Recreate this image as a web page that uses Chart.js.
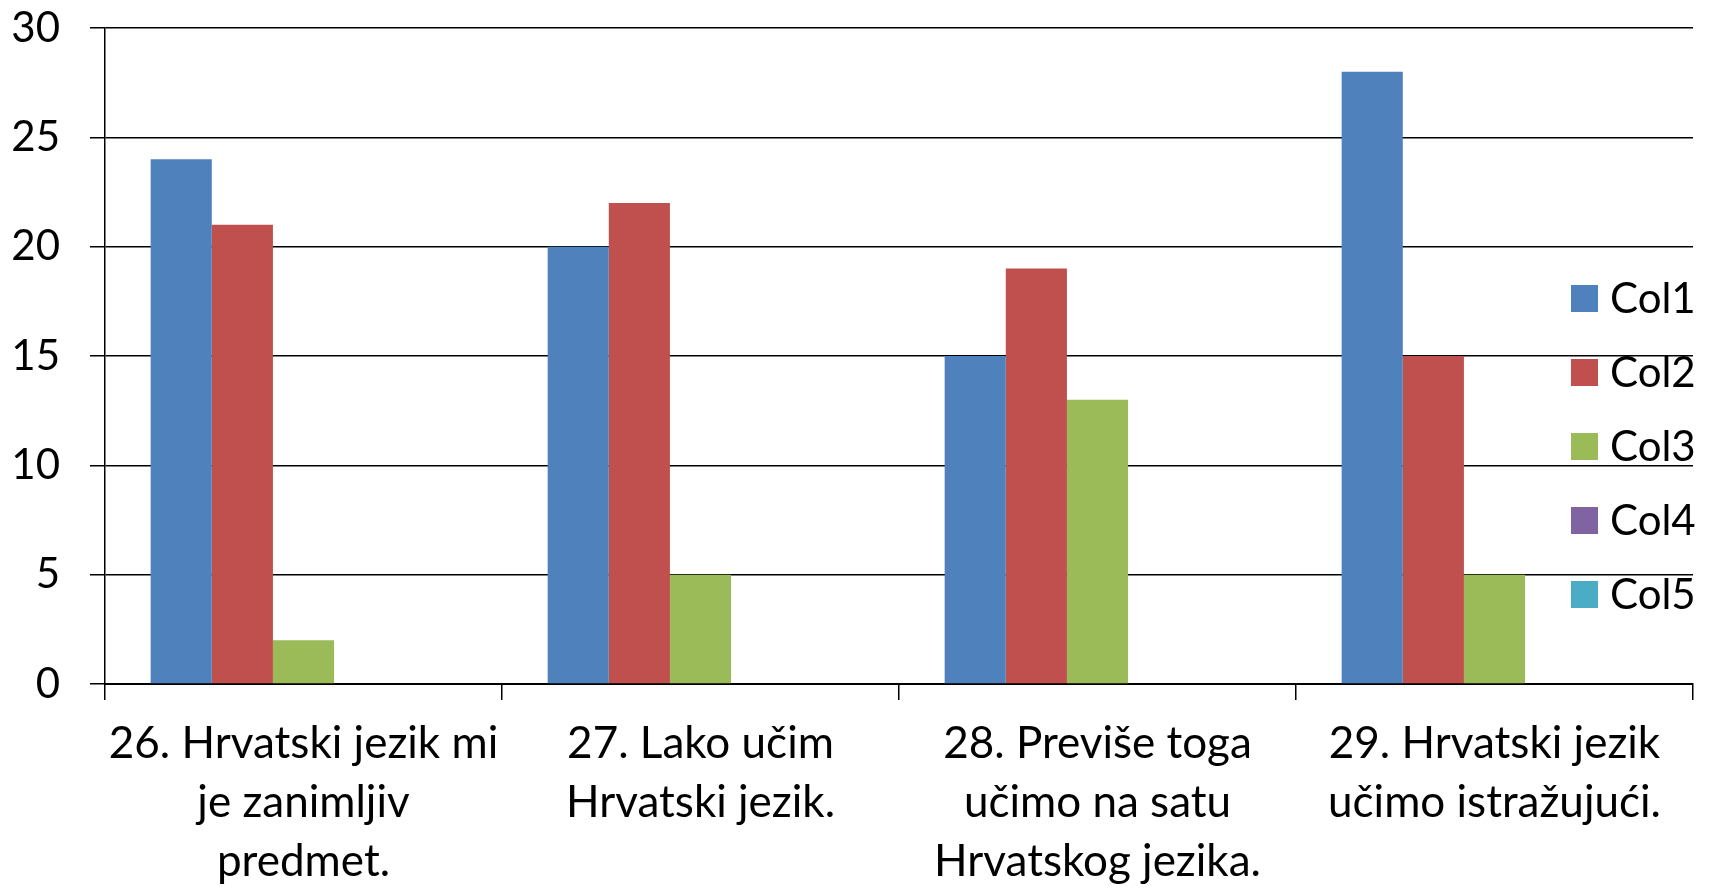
<!DOCTYPE html>
<html>
<head>
<meta charset="utf-8">
<script src="https://cdn.jsdelivr.net/npm/chart.js@4/dist/chart.umd.min.js"></script>
<style>
  html, body { margin: 0; padding: 0; background: #fff; }
  #wrap { width: 1715px; height: 889px; }
</style>
</head>
<body>
<div id="wrap"><canvas id="grafikon"></canvas></div>
<script>
// pitanja (kategorije), svaka u više redaka
const categories = [
  ['26. Hrvatski jezik mi', 'je zanimljiv', 'predmet.'],
  ['27. Lako učim', 'Hrvatski jezik.'],
  ['28. Previše toga', 'učimo na satu', 'Hrvatskog jezika.'],
  ['29. Hrvatski jezik', 'učimo istražujući.']
];
const seriesNames = ['Col1', 'Col2', 'Col3', 'Col4', 'Col5'];
const col1 = [24, 20, 15, 28];
const col2 = [21, 22, 19, 15];
const col3 = [2, 5, 13, 5];
const col4 = [0, 0, 0, 0];
const col5 = [0, 0, 0, 0];
const yTicks = [0, 5, 10, 15, 20, 25, 30];

const boje = ['#4F81BD', '#C0504D', '#9BBB59', '#8064A2', '#4BACC6'];
const FONT = 'Lato, "Open Sans", sans-serif';

// legenda desno, preko područja grafa (kao u Excelu)
const legendaDesno = {
  id: 'legendaDesno',
  afterDraw(chart) {
    const ctx = chart.ctx;
    ctx.save();
    ctx.font = '42px ' + FONT;
    ctx.textBaseline = 'middle';
    ctx.textAlign = 'left';
    chart.data.datasets.forEach((ds, i) => {
      const y = 298 + i * 74;
      ctx.fillStyle = ds.backgroundColor;
      ctx.fillRect(1571, y - 13, 27, 27);
      ctx.fillStyle = '#000';
      ctx.fillText(ds.label, 1610, y + 1);
    });
    ctx.restore();
  }
};

const sviPodaci = [col1, col2, col3, col4, col5];

new Chart(document.getElementById('grafikon').getContext('2d'), {
  type: 'bar',
  data: {
    labels: categories,
    datasets: seriesNames.map((name, i) => ({
      label: name,
      data: sviPodaci[i],
      backgroundColor: boje[i],
      borderWidth: 0,
      categoryPercentage: 0.77,
      barPercentage: 1
    }))
  },
  plugins: [legendaDesno],
  options: {
    responsive: true,
    maintainAspectRatio: false,
    animation: false,
    layout: { autoPadding: false, padding: { left: 12, right: 22, top: 28, bottom: 0 } },
    plugins: {
      legend: { display: false },
      tooltip: { enabled: false }
    },
    scales: {
      x: {
        afterFit(axis) {
          axis.height = 205;
          axis.paddingLeft = 0;
          axis.paddingRight = 0;
        },
        grid: {
          offset: true,
          drawOnChartArea: false,
          color: '#000',
          lineWidth: 1.5,
          tickLength: 16
        },
        border: { display: true, color: '#000', width: 2 },
        ticks: {
          color: '#000',
          font: { family: FONT, size: 44, lineHeight: 1.34 },
          maxRotation: 0,
          autoSkip: false,
          padding: 14
        }
      },
      y: {
        min: 0,
        max: 30,
        afterBuildTicks(axis) {
          axis.ticks = yTicks.map(v => ({ value: v }));
        },
        afterFit(axis) {
          axis.width = 93;
          axis.paddingTop = 0;
          axis.paddingBottom = 0;
        },
        grid: {
          color: '#000',
          lineWidth: 1.5,
          tickLength: 15
        },
        border: { display: true, color: '#000', width: 1.5 },
        ticks: {
          color: '#000',
          font: { family: FONT, size: 42 },
          padding: 30
        }
      }
    }
  }
});
</script>
</body>
</html>
